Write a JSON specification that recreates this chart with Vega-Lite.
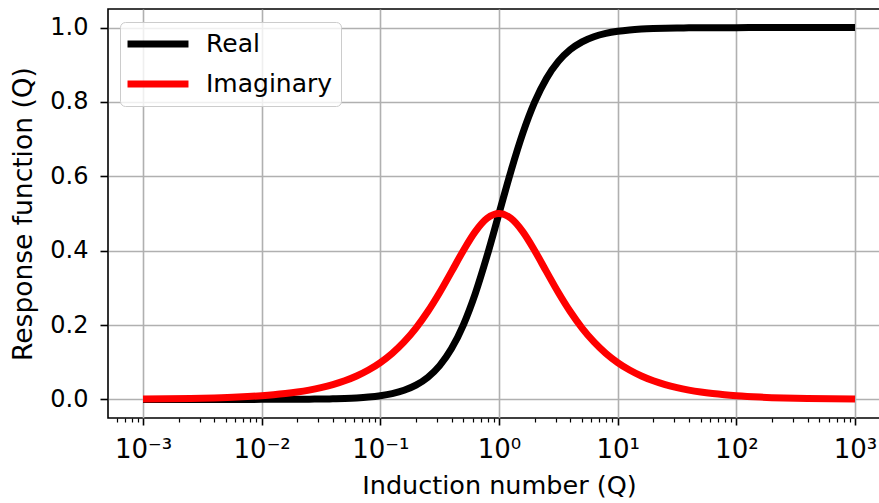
{
  "$schema": "https://vega.github.io/schema/vega-lite/v6.json",
  "width": 782,
  "height": 409,
  "autosize": {"type": "none"},
  "padding": {"left": 108, "top": 9, "right": 0, "bottom": 85},
  "background": "white",
  "config": {
    "font": "DejaVu Sans",
    "view": {"stroke": "black", "strokeWidth": 1.6},
    "axis": {
      "labelFont": "DejaVu Sans",
      "titleFont": "DejaVu Sans",
      "labelColor": "black",
      "titleColor": "black",
      "tickColor": "black",
      "domain": false,
      "gridColor": "#b0b0b0",
      "gridWidth": 1.6,
      "gridOpacity": 1
    }
  },
  "data": {
    "values": [
      {"q": 0.001, "Real": 0.000001, "Imaginary": 0.001},
      {"q": 0.001585, "Real": 0.0000025, "Imaginary": 0.001585},
      {"q": 0.002512, "Real": 0.0000063, "Imaginary": 0.002512},
      {"q": 0.003981, "Real": 0.0000158, "Imaginary": 0.003981},
      {"q": 0.00631, "Real": 0.00004, "Imaginary": 0.00631},
      {"q": 0.01, "Real": 0.0001, "Imaginary": 0.01},
      {"q": 0.012589, "Real": 0.00016, "Imaginary": 0.01259},
      {"q": 0.015849, "Real": 0.00025, "Imaginary": 0.01585},
      {"q": 0.019953, "Real": 0.0004, "Imaginary": 0.01994},
      {"q": 0.025119, "Real": 0.00063, "Imaginary": 0.0251},
      {"q": 0.031623, "Real": 0.001, "Imaginary": 0.03159},
      {"q": 0.039811, "Real": 0.00158, "Imaginary": 0.03975},
      {"q": 0.050119, "Real": 0.00251, "Imaginary": 0.04999},
      {"q": 0.063096, "Real": 0.00397, "Imaginary": 0.06285},
      {"q": 0.079433, "Real": 0.00627, "Imaginary": 0.07894},
      {"q": 0.1, "Real": 0.0099, "Imaginary": 0.09901},
      {"q": 0.125893, "Real": 0.0156, "Imaginary": 0.12393},
      {"q": 0.158489, "Real": 0.0245, "Imaginary": 0.15461},
      {"q": 0.199526, "Real": 0.03829, "Imaginary": 0.19189},
      {"q": 0.251189, "Real": 0.05935, "Imaginary": 0.23628},
      {"q": 0.316228, "Real": 0.09091, "Imaginary": 0.28748},
      {"q": 0.398107, "Real": 0.13681, "Imaginary": 0.34364},
      {"q": 0.501187, "Real": 0.20076, "Imaginary": 0.40056},
      {"q": 0.630957, "Real": 0.28475, "Imaginary": 0.45129},
      {"q": 0.794328, "Real": 0.38686, "Imaginary": 0.48704},
      {"q": 1, "Real": 0.5, "Imaginary": 0.5},
      {"q": 1.258925, "Real": 0.61314, "Imaginary": 0.48704},
      {"q": 1.584893, "Real": 0.71525, "Imaginary": 0.45129},
      {"q": 1.995262, "Real": 0.79924, "Imaginary": 0.40056},
      {"q": 2.511886, "Real": 0.86319, "Imaginary": 0.34364},
      {"q": 3.162278, "Real": 0.90909, "Imaginary": 0.28748},
      {"q": 3.981072, "Real": 0.94065, "Imaginary": 0.23628},
      {"q": 5.011872, "Real": 0.96171, "Imaginary": 0.19189},
      {"q": 6.309573, "Real": 0.9755, "Imaginary": 0.15461},
      {"q": 7.943282, "Real": 0.9844, "Imaginary": 0.12393},
      {"q": 10, "Real": 0.9901, "Imaginary": 0.09901},
      {"q": 12.589, "Real": 0.99373, "Imaginary": 0.07894},
      {"q": 15.849, "Real": 0.99603, "Imaginary": 0.06285},
      {"q": 19.953, "Real": 0.99749, "Imaginary": 0.04999},
      {"q": 25.119, "Real": 0.99842, "Imaginary": 0.03975},
      {"q": 31.623, "Real": 0.999, "Imaginary": 0.03159},
      {"q": 39.811, "Real": 0.99937, "Imaginary": 0.0251},
      {"q": 50.119, "Real": 0.9996, "Imaginary": 0.01994},
      {"q": 63.096, "Real": 0.99975, "Imaginary": 0.01585},
      {"q": 79.433, "Real": 0.99984, "Imaginary": 0.01259},
      {"q": 100, "Real": 0.9999, "Imaginary": 0.01},
      {"q": 158.49, "Real": 0.99996, "Imaginary": 0.00631},
      {"q": 251.19, "Real": 0.99998, "Imaginary": 0.00398},
      {"q": 398.11, "Real": 0.99999, "Imaginary": 0.00251},
      {"q": 630.96, "Real": 1.0, "Imaginary": 0.00158},
      {"q": 1000, "Real": 1.0, "Imaginary": 0.001}
    ]
  },
  "transform": [{"fold": ["Real", "Imaginary"], "as": ["series", "v"]}],
  "layer": [
    {
      "mark": {"type": "line", "strokeWidth": 7, "interpolate": "monotone", "strokeCap": "butt"},
      "encoding": {
        "x": {
          "field": "q",
          "type": "quantitative",
          "scale": {"type": "log", "domain": [0.000507, 1972], "nice": false},
          "axis": {
            "values": [0.001, 0.01, 0.1, 1, 10, 100, 1000],
            "labelExpr": "datum.value == 0.001 ? '10⁻³' : datum.value == 0.01 ? '10⁻²' : datum.value == 0.1 ? '10⁻¹' : datum.value == 1 ? '10⁰' : datum.value == 10 ? '10¹' : datum.value == 100 ? '10²' : '10³'",
            "labelFontSize": 26,
            "labelPadding": 11,
            "labelFlush": false,
            "labelOverlap": false,
            "tickSize": 7,
            "tickWidth": 1.6,
            "grid": true,
            "title": "Induction number (Q)",
            "titleFontSize": 25.5,
            "titleFontWeight": "normal",
            "titlePadding": 11
          }
        },
        "y": {
          "field": "v",
          "type": "quantitative",
          "scale": {"domain": [-0.05, 1.05], "nice": false, "zero": false},
          "axis": {
            "values": [0, 0.2, 0.4, 0.6, 0.8, 1.0],
            "format": ".1f",
            "labelFontSize": 24,
            "labelPadding": 12,
            "tickSize": 8,
            "tickWidth": 1.6,
            "grid": true,
            "title": "Response function (Q)",
            "titleFontSize": 26.5,
            "titleFontWeight": "normal",
            "titlePadding": 12
          }
        },
        "color": {
          "field": "series",
          "type": "nominal",
          "sort": ["Real", "Imaginary"],
          "scale": {"domain": ["Real", "Imaginary"], "range": ["black", "#ff0000"]},
          "legend": {
            "title": null,
            "orient": "none",
            "legendX": 12,
            "legendY": 13,
            "symbolType": "M-3,0H3",
            "symbolSize": 413,
            "symbolStrokeWidth": 7,
            "symbolOffset": 16,
            "labelFontSize": 25,
            "labelOffset": 34,
            "labelExpr": "datum.label + '\u00a0'",
            "rowPadding": 12,
            "padding": 8,
            "fillColor": "rgba(255,255,255,0.8)",
            "strokeColor": "#cccccc",
            "cornerRadius": 5
          }
        }
      }
    },
    {
      "mark": {"type": "rule", "opacity": 0},
      "encoding": {
        "x": {
          "field": "q",
          "type": "quantitative",
          "axis": {
            "orient": "bottom",
            "values": [0.0006, 0.0007, 0.0008, 0.0009, 0.002, 0.003, 0.004, 0.005, 0.006, 0.007, 0.008, 0.009, 0.02, 0.03, 0.04, 0.05, 0.06, 0.07, 0.08, 0.09, 0.2, 0.3, 0.4, 0.5, 0.6, 0.7, 0.8, 0.9, 2, 3, 4, 5, 6, 7, 8, 9, 20, 30, 40, 50, 60, 70, 80, 90, 200, 300, 400, 500, 600, 700, 800, 900],
            "labels": false,
            "grid": false,
            "tickSize": 4,
            "tickWidth": 1.2,
            "title": null
          }
        }
      }
    }
  ],
  "resolve": {"axis": {"x": "independent"}}
}
